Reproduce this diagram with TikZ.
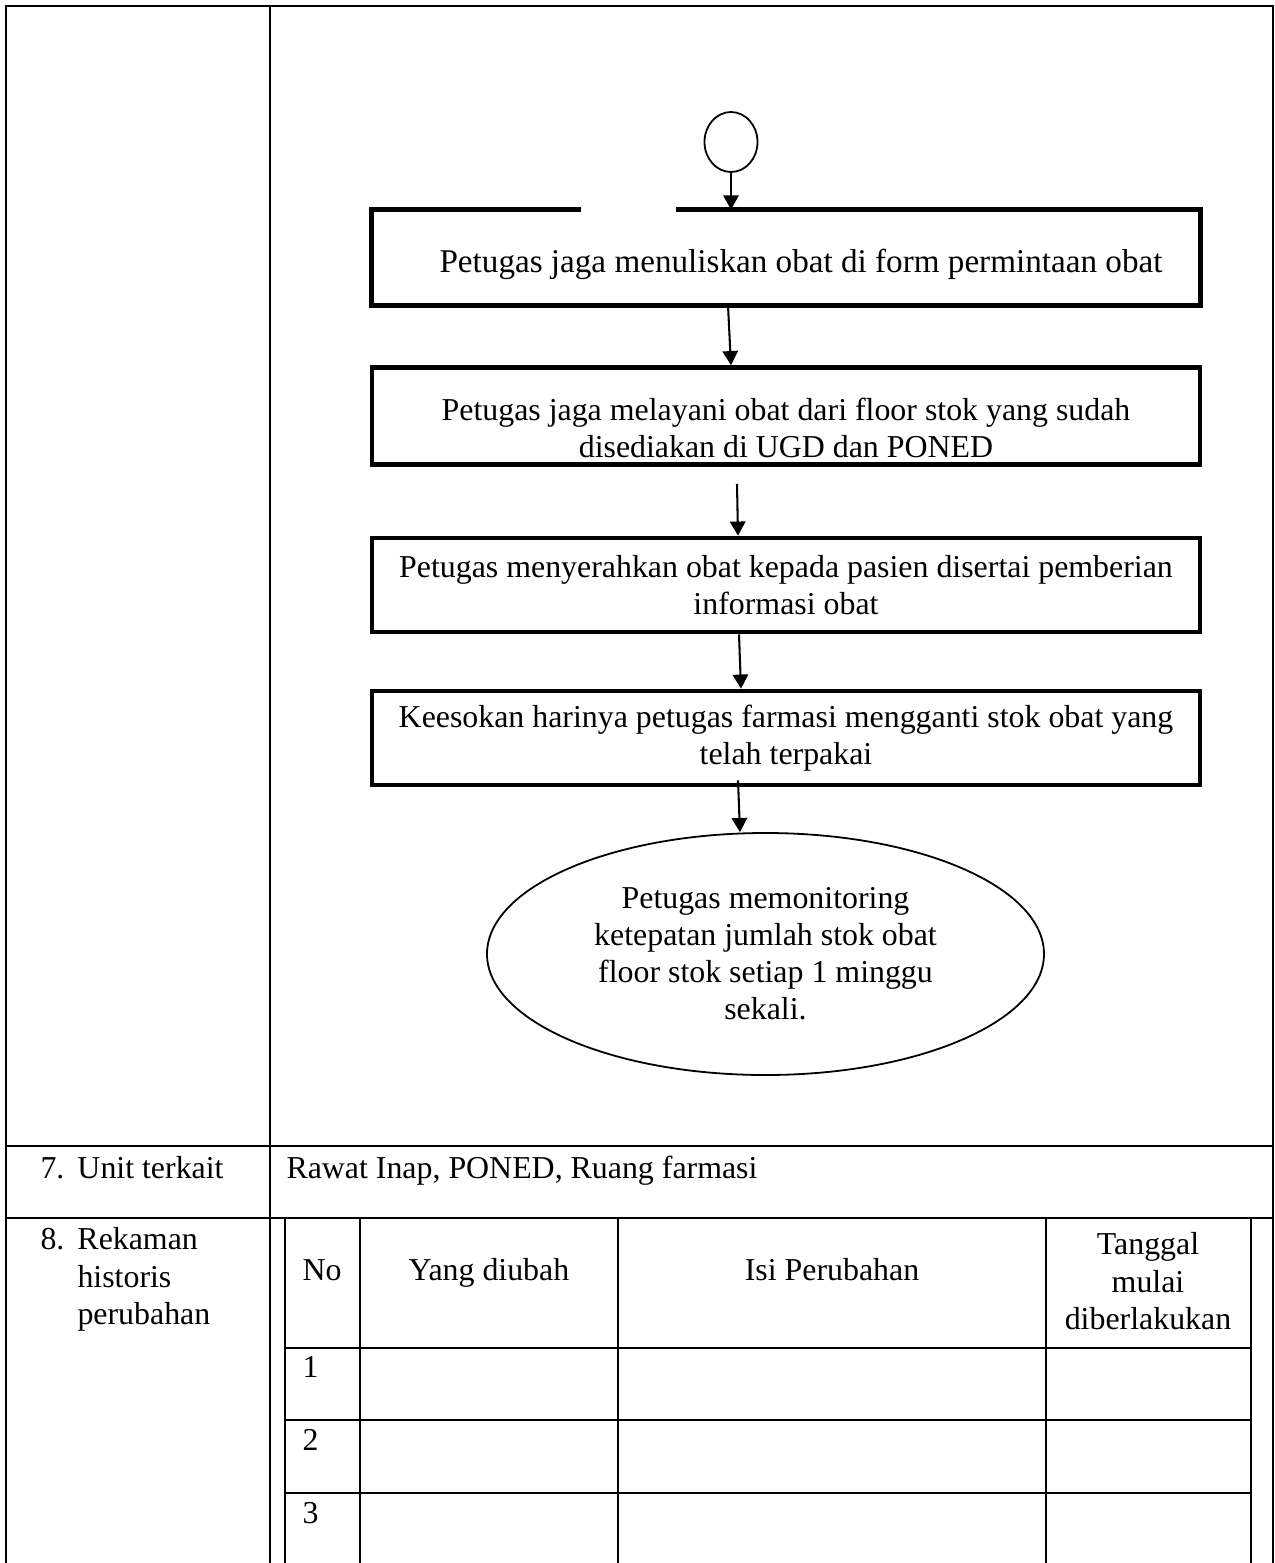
\documentclass[tikz,border=0pt]{standalone}
\usepackage{fontspec}
\setmainfont{Liberation Serif}
\usetikzlibrary{arrows.meta,shapes.geometric,calc}
\newlength\pu
\setlength\pu{0.389pt}
\tikzset{
    rule/.style={line width=1.1pt},
    cell/.style={inner sep=0pt},
    procarea/.style={minimum width=828*\pu, align=center, inner sep=0pt},
    procbox/.style={procarea, draw, line width=1.8pt},
    flow/.style={line width=0.8pt, -{Triangle[length=5.5pt,width=6pt]}}
}
\begin{document}
\begin{tikzpicture}[x=0.389pt, y=-0.389pt, font=\fontsize{12.4pt}{14.4pt}\selectfont]
                    \useasboundingbox (0,0) rectangle (1275,1563);
                    \draw[rule] (6,1563) -- (6,6) -- (1273,6) -- (1273,1563);
                    \draw[rule] (270,6) -- (270,1563);
                    \draw[rule] (6,1146) -- (1273,1146);
                    \draw[rule] (6,1218) -- (1273,1218);
                    \foreach \x in {285,360,618,1046,1251}
                        \draw[rule] (\x,1218) -- (\x,1563);
                    \foreach \y in {1348,1420,1493}
                        \draw[rule] (285,\y) -- (1251,\y);
                    \node[draw, ellipse, line width=0.7pt, inner sep=0pt, minimum width=53*\pu, minimum height=60*\pu] (start) at (731,142) {};
                    \node[procarea, minimum height=95*\pu, font=\fontsize{12.9pt}{14.4pt}\selectfont] (b1) at (786,257.5) {\rule{0pt}{14.5pt}\hspace*{30\pu}Petugas jaga menuliskan obat di form permintaan obat};
                    \coordinate (gapl) at (581,210);
                    \coordinate (gapr) at (676,210);
                    \draw[line width=1.8pt] (gapl |- b1.north) -- (b1.north west) -- (b1.south west) -- (b1.south east) -- (b1.north east) -- (gapr |- b1.north);
                    \node[procbox, minimum height=97*\pu] (b2) at (786,416) {\rule{0pt}{18pt}Petugas jaga melayani obat dari floor stok yang sudah\\disediakan di UGD dan PONED};
                    \node[procbox, minimum height=94*\pu] (b3) at (786,585) {Petugas menyerahkan obat kepada pasien disertai pemberian\\informasi obat};
                    \node[procbox, minimum height=94*\pu] (b4) at (786,738) {Keesokan harinya petugas farmasi mengganti stok obat yang\\telah terpakai};
                    \node[draw, ellipse, line width=0.7pt, inner sep=0pt, align=center, minimum width=557*\pu, minimum height=242*\pu] (finish) at (765.5,954) {Petugas memonitoring\\ketepatan jumlah stok obat\\floor stok setiap 1 minggu\\sekali.};
                    \draw[flow] (start.south) -- (start.south |- b1.north);
                    \draw[flow] ($(b1.south -| start)+(-3,0)$) -- (b2.north -| start);
                    \draw[flow] ($(b2.south -| start)+(6,17)$) -- ($(b3.north -| start)+(7,0)$);
                    \draw[flow] ($(b3.south -| start)+(8,0)$) -- ($(b4.north -| start)+(10,0)$);
                    \draw[flow] ($(b4.south -| start)+(7,-7)$) -- ($(finish.north -| start)+(9,0)$);
                    \node[cell, anchor=base west] (unit) at (40,1178) {\makebox[37\pu][l]{7.}Unit terkait};
                    \node[cell, anchor=base west] (unitval) at (286,1178) {Rawat Inap, PONED, Ruang farmasi};
                    \node[cell, anchor=base west, align=left] (rekaman) at (40,1324) {\makebox[37\pu][l]{8.}Rekaman\\\hspace*{37\pu}historis\\\hspace*{37\pu}perubahan};
                    \node[cell, anchor=base] (hno) at (322,1280) {No};
                    \node[cell, anchor=base] (hyang) at (489,1280) {Yang diubah};
                    \node[cell, anchor=base] (hisi) at (832,1280) {Isi Perubahan};
                    \node[cell, anchor=base, align=center] (htgl) at (1148,1329) {Tanggal\\mulai\\diberlakukan};
                    \foreach \n/\y in {1/1377,2/1450,3/1523}
                        \node[cell, anchor=base west] (row\n) at (302,\y) {\n};
\end{tikzpicture}
\end{document}
